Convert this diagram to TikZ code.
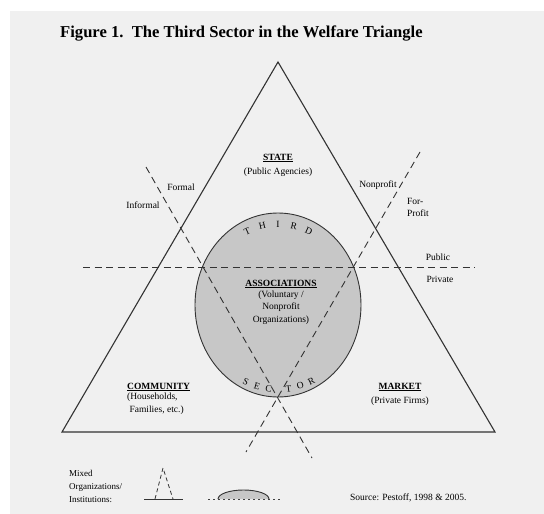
\documentclass[tikz,border=0pt]{standalone}
\usepackage{fontspec}
\setmainfont{Liberation Serif}
\usetikzlibrary{positioning,shapes.geometric}

\begin{document}
\begin{tikzpicture}[x=1pt,y=-1pt,
    lbl/.style={font=\fontsize{9.5}{11}\selectfont, inner sep=0pt, align=center},
    head/.style={lbl, font=\fontsize{9.5}{11}\selectfont\bfseries},
    letter/.style={font=\fontsize{9.5}{11}\selectfont, inner sep=0pt},
    split/.style={line width=0.9pt, black!80, dash pattern=on 7pt off 4.5pt},
    edge/.style={line width=1.1pt, black!80}]
  % Fond
  \fill[white] (0,0) rectangle (544,514);
  \fill[black!6] (10,11) rectangle (544,514);
  \useasboundingbox (0,0) rectangle (544,514);
  % Titre
  \node[anchor=base west, inner sep=0pt, font=\fontsize{16.6}{20}\selectfont\bfseries] (title) at (60,37)
    {Figure 1.\ \ The Third Sector in the Welfare Triangle};
  % Sommets du triangle
  \coordinate (apex) at (278,62);
  \coordinate (left) at (62,432);
  \coordinate (right) at (495,432);
  % Associations (ellipse)
  \node[ellipse, draw, line width=0.9pt, black!80, fill=black!22, minimum width=166pt,
    minimum height=184pt, inner sep=0pt] (assoc) at (278,305) {};
  % Triangle
  \draw[edge, line join=miter] (apex) -- (left) -- (right) -- cycle;
  % Lignes de partage
  \coordinate (publ) at (83,267);     \coordinate (priv) at (475,267);
  \coordinate (formal) at (146,167);  \coordinate (formalend) at (312,458);
  \coordinate (nonpr) at (420,152);   \coordinate (nonprend) at (246,452);
  \draw[split] (publ) -- (priv);
  \draw[split] (formal) -- (formalend);
  \draw[split] (nonpr) -- (nonprend);
  % Secteurs
  \node[head] (state) at (278,158) {\underline{STATE}};
  \node[lbl] (statesub) at (278,172) {(Public Agencies)};
  \node[head] (assochead) at (281,284) {\underline{ASSOCIATIONS}};
  \node[lbl, font=\fontsize{9.5}{12.5}\selectfont, below=2pt of assochead] (assocsub)
    {(Voluntary /\\Nonprofit\\Organizations)};
  \node[head, anchor=west] (community) at (127,387) {\underline{COMMUNITY}};
  \node[lbl, align=left, anchor=north west, font=\fontsize{9.5}{13}\selectfont] (commsub) at (127,393)
    {(Households,\\\ Families, etc.)};
  \node[head] (market) at (400,387) {\underline{MARKET}};
  \node[lbl] (marketsub) at (400,401) {(Private Firms)};
  % Etiquettes des lignes
  \node[lbl] (formallbl) at (181,187) {Formal};
  \node[lbl] (informallbl) at (143,205) {Informal};
  \node[lbl] (nonprlbl) at (378,185) {Nonprofit};
  \node[lbl, align=left, font=\fontsize{9.5}{12}\selectfont] (forprlbl) at (418,207) {For-\\Profit};
  \node[lbl] (publiclbl) at (438,257) {Public};
  \node[lbl] (privatelbl) at (440,279) {Private};
  % Lettres sur l'ellipse
  \foreach \ang/\ch [count=\i] in {115/T,102.5/H,90/I,77.5/R,65/D}
    \node[letter, rotate=\ang-90] (third\i) at ({278+0.88*83*cos(\ang)},{305-0.88*92*sin(\ang)}) {\ch};
  \foreach \ang/\ch [count=\i] in {245/S,254/E,263/C,278/T,287/O,296/R}
    \node[letter, rotate=\ang-270] (sector\i) at ({278+0.92*83*cos(\ang)},{305-0.92*92*sin(\ang)}) {\ch};
  % Legende
  \node[lbl, align=left, anchor=north west, font=\fontsize{9}{13}\selectfont] (mixed) at (69,470)
    {Mixed\\Organizations/\\Institutions:};
  \coordinate (minil) at (144,499);  \coordinate (minir) at (183,499);
  \coordinate (minitop) at (163,468);
  \draw[edge, line width=1pt] (minil) -- (minir);
  \draw[split, line width=0.8pt, dash pattern=on 4pt off 3pt] (155,499) -- (minitop) -- (173,499);
  \draw[line width=0.9pt, black!80, fill=black!22] (218,499) arc[start angle=180, end angle=360, x radius=25.5, y radius=9];
  \draw[line width=0.8pt, black!75, dash pattern=on 2pt off 3pt] (208,499) -- (280,499);
  \node[lbl, anchor=base west] (source) at (350,500) {Source: Pestoff, 1998 \& 2005.};
\end{tikzpicture}
\end{document}
